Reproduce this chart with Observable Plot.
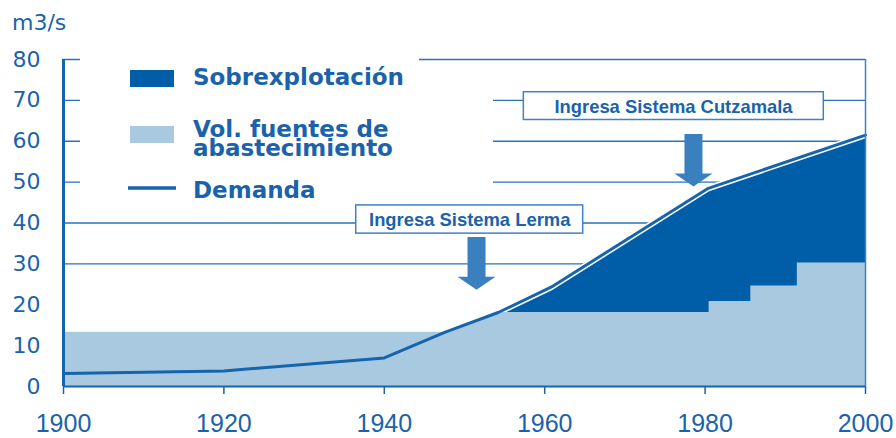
<!DOCTYPE html>
<html>
<head>
<meta charset="utf-8">
<script src="https://cdn.jsdelivr.net/npm/d3@7"></script>
<script src="https://cdn.jsdelivr.net/npm/@observablehq/plot@0.6"></script>
<style>
  body { margin: 0; background: #fff; }
  #wrap { position: relative; width: 896px; height: 438px; }
  #wrap svg { display: block; }
  #overlay { position: absolute; left: 0; top: 0; pointer-events: none; }
</style>
</head>
<body>
<div id="wrap"></div>
<script>
// ---- Data ----
const demandYears  = [1900, 1920, 1940, 1947.6, 1954.2, 1960.8, 1980.3, 2000];
const demandValues = [3.2, 3.8, 7.0, 13.3, 18.1, 24.3, 48.4, 61.5];

const supplyYears  = [1900, 1947.6, 1954.2, 1980.5, 1980.5, 1985.7, 1985.7, 1991.5, 1991.5, 2000];
const supplyValues = [13.3, 13.3, 18.1, 18.1, 20.8, 20.8, 24.6, 24.6, 30.2, 30.2];

const xTicks = [1900, 1920, 1940, 1960, 1980, 2000];
const yTicks = [0, 10, 20, 30, 40, 50, 60, 70, 80];
const gridValues = [30, 40, 50, 60, 70, 80];

const noteLabels = ["Ingresa Sistema Lerma", "Ingresa Sistema Cutzamala"];
const noteX      = [1950.65, 1976.06];
const noteY      = [40.7, 68.4];
const boxX1      = [1936.5, 1957.4];
const boxX2      = [1964.8, 1994.8];
const boxY1      = [37.4, 65.2];
const boxY2      = [44.3, 72.0];
const arrowYears = [1951.5, 1978.55];
const arrowTips  = [23.7, 48.9];

const legendLabels = ["Sobrexplotación", "Vol. fuentes de", "abastecimiento", "Demanda"];
const unitLabel = "m3/s";

// ---- Colors ----
const DARK = "#005ea8";
const LIGHT = "#a9c9e1";
const BLUE = "#1a63ab";
const LINE = "#1564ae";
const GRID = "#2b72b6";
const ARROW = "#3a80be";
const BOX = "#3d82c1";

const demand = demandYears.map((x, i) => ({x, y: demandValues[i]}));
const supply = supplyYears.map((x, i) => ({x, y: supplyValues[i]}));
const notes = noteLabels.map((t, i) => ({t, x: noteX[i], y: noteY[i], x1: boxX1[i], x2: boxX2[i], y1: boxY1[i], y2: boxY2[i]}));
const arrows = arrowYears.map((x, i) => ({x, y: arrowTips[i]}));

// arrow symbol: tip at origin, pointing down
const arrowSymbol = {
  draw(ctx) {
    ctx.moveTo(0, 0);
    ctx.lineTo(-19, -13);
    ctx.lineTo(-9, -13);
    ctx.lineTo(-9, -52.6);
    ctx.lineTo(9, -52.6);
    ctx.lineTo(9, -13);
    ctx.lineTo(19, -13);
    ctx.closePath();
  }
};

const chart = Plot.plot({
  width: 896,
  height: 438,
  marginLeft: 63,
  marginRight: 31,
  marginTop: 59,
  marginBottom: 52,
  x: {domain: [1900, 2000]},
  y: {domain: [0, 80]},
  marks: [
    Plot.ruleY(gridValues, {x1: 1900, x2: 2000, stroke: GRID, strokeWidth: 1.4}),
    Plot.areaY(demand, {x: "x", y1: 0, y2: "y", fill: DARK}),
    Plot.line(demand, {x: "x", y: "y", stroke: "white", strokeWidth: 6}),
    Plot.areaY(supply, {x: "x", y1: 0, y2: "y", fill: LIGHT}),
    Plot.line(demand, {x: "x", y: "y", stroke: LINE, strokeWidth: 3}),
    Plot.ruleX([2000], {y1: 0, y2: 80, stroke: BOX, strokeWidth: 1.5}),
    Plot.ruleY([0], {x1: 1900, x2: 2000, stroke: LINE, strokeWidth: 2}),
    Plot.ruleX([1900], {y1: 0, y2: 80, stroke: LINE, strokeWidth: 3}),
    Plot.rect(notes, {x1: "x1", x2: "x2", y1: "y1", y2: "y2", fill: "white", stroke: BOX, strokeWidth: 1.5}),
    Plot.text(notes, {x: "x", y: "y", text: "t", fill: BLUE, fontSize: 18.4, fontWeight: "bold", fontFamily: "Liberation Sans, Arial, sans-serif"}),
    Plot.dot(arrows, {x: "x", y: "y", symbol: arrowSymbol, fill: ARROW, stroke: "none", r: 1}),
    Plot.axisX({ticks: xTicks, tickFormat: d => String(d), tickSize: 8, tickPadding: 20, strokeWidth: 1.5, color: BLUE, fontSize: 25, fontFamily: "Liberation Sans, Arial, sans-serif", label: null}),
    Plot.axisY({ticks: yTicks, tickSize: 0, tickPadding: 23, color: BLUE, fontSize: 22, fontFamily: "DejaVu Sans, sans-serif", label: null})
  ]
});

const wrap = document.getElementById("wrap");
wrap.appendChild(chart);

// ---- Legend / unit overlay ----
const ns = "http://www.w3.org/2000/svg";
const ov = document.createElementNS(ns, "svg");
ov.setAttribute("id", "overlay");
ov.setAttribute("width", 896);
ov.setAttribute("height", 438);
function el(tag, attrs, text, parent) {
  const e = document.createElementNS(ns, tag);
  for (const k in attrs) e.setAttribute(k, attrs[k]);
  if (text != null) e.textContent = text;
  (parent || ov).appendChild(e);
  return e;
}
el("rect", {x: 80, y: 66, width: 413, height: 134, fill: "white"});
el("rect", {x: 80, y: 50, width: 339, height: 16, fill: "white"});
el("rect", {x: 130, y: 70, width: 44, height: 17, fill: DARK});
el("rect", {x: 130, y: 126, width: 44, height: 17, fill: LIGHT});
el("line", {x1: 128, x2: 176, y1: 188, y2: 188, stroke: LINE, "stroke-width": 3.5});
const lf = {fill: BLUE, "font-family": "DejaVu Sans, sans-serif", "font-weight": "bold", "font-size": 23, x: 193};
el("text", {...lf, y: 85}, legendLabels[0]);
const two = el("text", {...lf, y: 137});
el("tspan", {x: 193, y: 137}, legendLabels[1], two);
el("tspan", {x: 193, y: 156}, legendLabels[2], two);
el("text", {...lf, y: 198}, legendLabels[3]);
el("text", {x: 12, y: 30, fill: BLUE, "font-family": "DejaVu Sans, sans-serif", "font-size": 22}, unitLabel);
wrap.appendChild(ov);
</script>
</body>
</html>
